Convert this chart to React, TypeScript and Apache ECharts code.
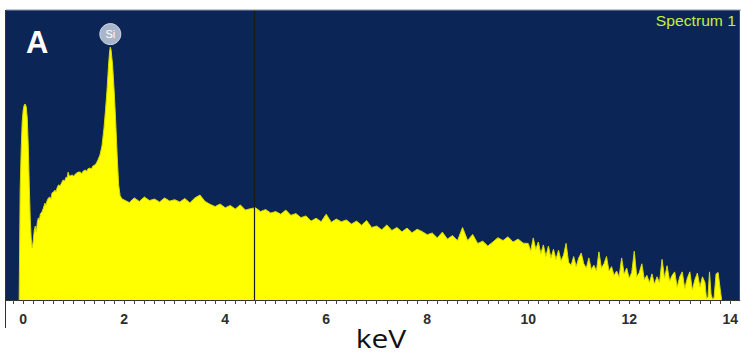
import React, { useEffect, useRef } from "react";
import * as echarts from "echarts";

// Low-energy region (keV) with the noise peak near 0 and the Si K-alpha peak
const lowEnergy = [
  -0.08, -0.06, -0.04, -0.02, 0.0, 0.02, 0.04, 0.06, 0.08, 0.1,
  0.12, 0.14, 0.16, 0.18, 0.2, 0.22, 0.24, 0.26, 0.28, 0.3,
  0.32, 0.34, 0.37, 0.4, 0.43, 0.45, 0.47, 0.5, 0.53, 0.55,
  0.57, 0.6, 0.63, 0.65, 0.67, 0.7, 0.73, 0.75, 0.79, 0.82,
  0.85, 0.87, 0.89, 0.91, 0.93, 0.97, 1.0, 1.03, 1.06, 1.09,
  1.13, 1.16, 1.19, 1.23, 1.26, 1.28, 1.32, 1.35, 1.38, 1.41,
  1.44, 1.48, 1.52, 1.56, 1.6, 1.63, 1.66, 1.69, 1.71, 1.725,
  1.74, 1.77, 1.8, 1.83, 1.86, 1.89, 1.92, 1.96,
];
const lowCounts = [
  0, 380, 517, 614, 655, 672, 676, 666, 628, 534,
  397, 276, 207, 179, 207, 241, 255, 234, 269, 283,
  276, 297, 303, 317, 334, 327, 341, 352, 355, 348,
  369, 372, 379, 372, 386, 397, 393, 400, 414, 410,
  424, 421, 441, 428, 428, 431, 427, 434, 438, 441,
  441, 436, 445, 448, 444, 452, 455, 452, 462, 465,
  469, 483, 500, 531, 593, 655, 724, 810, 855, 872,
  862, 810, 724, 621, 500, 397, 359, 348,
];

// Bremsstrahlung continuum, 2.0 keV to 9.9 keV every 0.1 keV
const midStart = 2.0;
const midStep = 0.1;
const midCounts = [
  345, 336, 352, 340, 355, 343, 348, 338, 352, 341,
  346, 338, 350, 335, 352, 362, 340, 330, 322, 331,
  318, 326, 314, 328, 310, 315, 318, 305, 312, 300,
  305, 296, 310, 292, 298, 284, 290, 272, 282, 270,
  296, 268, 279, 270, 276, 262, 272, 258, 274, 250,
  255, 242, 259, 240, 250, 235, 248, 232, 244, 236,
  225, 231, 214, 234, 210, 222, 205, 250, 205, 226,
  195, 203, 186, 200, 215, 205, 218, 200, 210, 196,
];

// Noisy high-energy continuum, 10.0 keV to 13.5 keV every 0.05 keV
const highStart = 10.0;
const highStep = 0.05;
const highCounts = [
  195, 170, 214, 175, 200, 160, 190, 150, 186, 145,
  175, 140, 172, 135, 155, 195, 130, 120, 150, 115,
  145, 162, 125, 110, 145, 105, 120, 100, 166, 110,
  125, 150, 100, 115, 85, 100, 80, 145, 90, 110,
  75, 95, 168, 80, 95, 125, 70, 85, 60, 90,
  55, 80, 60, 140, 75, 118, 65, 85, 97, 45,
  80, 97, 40, 75, 97, 35, 70, 93, 45, 80, 60,
];

// Last isolated spikes
const tailEnergy = [13.53, 13.56, 13.59, 13.62, 13.65, 13.68, 13.72, 13.76, 13.8, 13.83];
const tailCounts = [5, 10, 97, 20, 3, 8, 90, 95, 40, 0];

const xTickLabels = ["0", "2", "4", "6", "8", "10", "12", "14"];
const cursorEnergy = 4.57;
const siPeakEnergy = 1.725;
const siPeakCounts = 872;

export default function App() {
  const ref = useRef<HTMLDivElement>(null);

  useEffect(() => {
    if (!ref.current) return;
    const chart = echarts.init(ref.current, undefined, { renderer: "svg" });

    const data: [number, number][] = [
      ...lowEnergy.map((e, i) => [e, lowCounts[i]] as [number, number]),
      ...midCounts.map(
        (c, i) => [+(midStart + i * midStep).toFixed(2), c] as [number, number]
      ),
      ...highCounts.map(
        (c, i) => [+(highStart + i * highStep).toFixed(2), c] as [number, number]
      ),
      ...tailEnergy.map((e, i) => [e, tailCounts[i]] as [number, number]),
    ];

    chart.setOption({
      animation: false,
      grid: {
        left: 2.5,
        right: 0,
        top: 10,
        bottom: 54,
        show: true,
        backgroundColor: "#0c2557",
        borderWidth: 0,
      },
      xAxis: {
        type: "value",
        min: -0.4,
        max: 14.19,
        interval: 0.2,
        axisLine: { show: true, onZero: false, lineStyle: { color: "#333", width: 1 } },
        axisTick: { show: true, length: 4, lineStyle: { color: "#444", width: 1 } },
        splitLine: { show: false },
        axisLabel: {
          margin: 12,
          fontFamily: "Liberation Sans, Arial, sans-serif",
          fontSize: 14,
          fontWeight: "bold",
          color: "#2e2e2e",
          showMaxLabel: false,
          formatter: (v: number) => {
            const r = Math.round(v);
            if (Math.abs(v - r) > 1e-6) return "";
            const s = String(r);
            return xTickLabels.includes(s) ? s : "";
          },
        },
      },
      yAxis: {
        type: "value",
        min: 0,
        max: 1000,
        show: false,
        splitLine: { show: false },
      },
      series: [
        {
          type: "line",
          data,
          symbol: "none",
          lineStyle: { color: "#d8d800", width: 1 },
          areaStyle: { color: "#ffff00", opacity: 1 },
          z: 2,
          markLine: {
            silent: true,
            symbol: "none",
            label: { show: false },
            lineStyle: { color: "#1a1a1a", width: 1.2, type: "solid" },
            data: [{ xAxis: cursorEnergy }],
          },
          markPoint: {
            silent: true,
            data: [
              {
                coord: [siPeakEnergy, siPeakCounts],
                symbol: "circle",
                symbolSize: 21,
                symbolOffset: [0, -13],
                itemStyle: { color: "#a9b5ca", borderColor: "#cfd8e6", borderWidth: 1 },
                label: {
                  show: true,
                  formatter: "Si",
                  color: "#ffffff",
                  fontSize: 11,
                  fontFamily: "Liberation Sans, Arial, sans-serif",
                  position: "inside",
                },
              },
            ],
          },
        },
      ],
      graphic: [
        {
          type: "rect",
          shape: { x: 0, y: 0, width: 5.5, height: 305 },
          style: { fill: "#ffffff" },
          z: 100,
        },
        {
          type: "line",
          shape: { x1: 5.5, y1: 10, x2: 5.5, y2: 328 },
          style: { stroke: "#333", lineWidth: 1 },
          z: 101,
        },
        {
          type: "line",
          shape: { x1: 6, y1: 10, x2: 741, y2: 10 },
          style: { stroke: "#8a93a8", lineWidth: 1 },
          z: 101,
        },
        {
          type: "text",
          x: 26,
          y: 27,
          style: {
            text: "A",
            fill: "#ffffff",
            font: "bold 31px 'Liberation Sans', Arial, sans-serif",
          },
          z: 101,
        },
        {
          type: "text",
          x: 736,
          y: 21,
          scaleX: 1.12,
          style: {
            text: "Spectrum 1",
            fill: "#c6ef3a",
            font: "14px 'Liberation Sans', Arial, sans-serif",
            textAlign: "right",
            textVerticalAlign: "middle",
          },
          z: 101,
        },
        {
          type: "text",
          x: 381,
          y: 338,
          scaleX: 1.2,
          style: {
            text: "keV",
            fill: "#111111",
            font: "25px 'Open Sans', 'Noto Sans', sans-serif",
            textAlign: "center",
            textVerticalAlign: "middle",
          },
          z: 101,
        },
      ],
    });

    return () => chart.dispose();
  }, []);

  return (
    <div
      ref={ref}
      style={{ position: "fixed", left: 0, top: 0, width: 741, height: 354, background: "#ffffff" }}
    />
  );
}
